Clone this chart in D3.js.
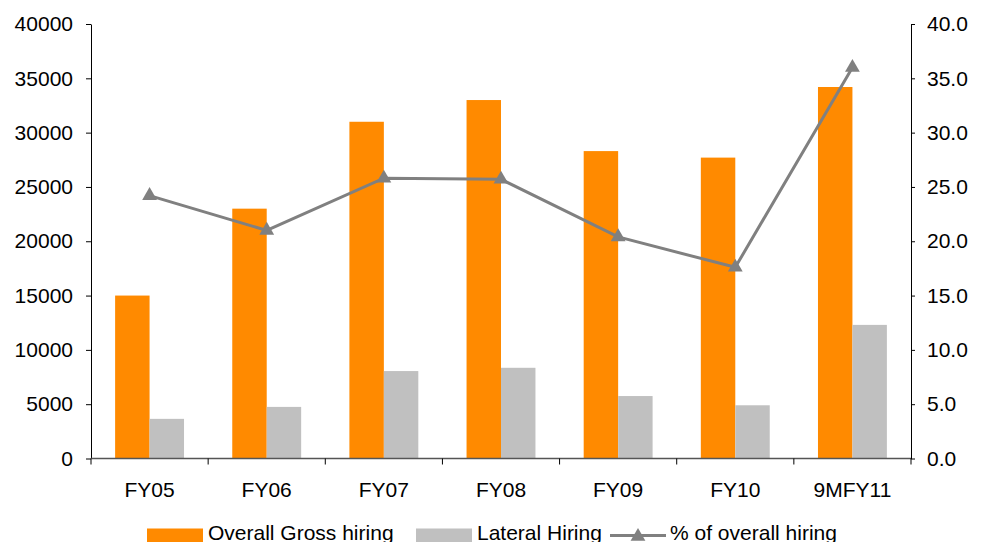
<!DOCTYPE html>
<html lang="en">
<head>
	<meta charset="UTF-8">
	<title>Gross hiring vs Lateral hiring</title>
	<script src="https://d3js.org/d3.v7.min.js"></script>
	<style>
		body {
			margin: 0;
			font-family: "Liberation Sans", Arial, sans-serif;
			background: #fff;
		}
		.axis text {
			font-family: "Liberation Sans", Arial, sans-serif;
			font-size: 21px;
			fill: #000;
		}
	</style>
</head>
<body>

<div id="chart"></div>

<script>
	// data
	const years = ["FY05", "FY06", "FY07", "FY08", "FY09", "FY10", "9MFY11"];
	const grossHiring = [15000, 23000, 31000, 33000, 28300, 27700, 34200];
	const lateralHiring = [3650, 4750, 8050, 8350, 5750, 4900, 12300];
	const pctOverall = [24.2, 21.0, 25.8, 25.7, 20.4, 17.6, 36.0];
	const leftTicks = [0, 5000, 10000, 15000, 20000, 25000, 30000, 35000, 40000];
	const rightTicks = [0, 5, 10, 15, 20, 25, 30, 35, 40];

	const W = 985, H = 542;
	const margin = {top: 24, right: 74, bottom: 83.5, left: 91},
		  width = W - margin.left - margin.right,
		  height = H - margin.top - margin.bottom;

	const svg = d3.select("#chart")
		.append("svg")
		.attr("width", W)
		.attr("height", H)
		.append("g")
		.attr("transform", `translate(${margin.left},${margin.top})`);

	const x = d3.scaleBand()
		.domain(years)
		.range([0, width]);

	// inner scale for the two bars within a category
	const inner = d3.scaleBand()
		.domain(["gross", "lateral"])
		.range([0, x.bandwidth()])
		.paddingOuter(0.7)
		.paddingInner(0);

	const yLeft = d3.scaleLinear().domain([0, 40000]).range([height, 0]);
	const yRight = d3.scaleLinear().domain([0, 40]).range([height, 0]);

	const markerSize = 95;

	// Bars
	svg.selectAll("rect.gross")
		.data(years)
		.join("rect")
		.attr("class", "gross")
		.attr("x", (d) => x(d) + inner("gross"))
		.attr("y", (d, i) => yLeft(grossHiring[i]))
		.attr("width", inner.bandwidth())
		.attr("height", (d, i) => height - yLeft(grossHiring[i]))
		.attr("fill", "#ff8a00");

	svg.selectAll("rect.lateral")
		.data(years)
		.join("rect")
		.attr("class", "lateral")
		.attr("x", (d) => x(d) + inner("lateral"))
		.attr("y", (d, i) => yLeft(lateralHiring[i]))
		.attr("width", inner.bandwidth())
		.attr("height", (d, i) => height - yLeft(lateralHiring[i]))
		.attr("fill", "#c0c0c0");

	// Left axis
	svg.append("g")
		.attr("class", "axis")
		.call(d3.axisLeft(yLeft).tickValues(leftTicks).tickFormat(d3.format("d")).tickSize(5).tickPadding(13).tickSizeOuter(0))
		.call(g => g.select(".domain").attr("stroke", "#000"));

	// Right axis
	svg.append("g")
		.attr("class", "axis")
		.attr("transform", `translate(${width},0)`)
		.call(d3.axisRight(yRight).tickValues(rightTicks).tickFormat(d3.format(".1f")).tickSize(4).tickPadding(12).tickSizeOuter(0));

	// X axis with ticks at category boundaries
	const xAxis = svg.append("g")
		.attr("class", "axis")
		.attr("transform", `translate(0,${height})`);
	xAxis.append("line")
		.attr("x1", 0).attr("x2", width)
		.attr("stroke", "#555").attr("stroke-width", 1.5);
	xAxis.selectAll("line.sep")
		.data(years.concat([null]))
		.join("line")
		.attr("class", "sep")
		.attr("x1", (d, i) => i < years.length ? x(d) : width)
		.attr("x2", (d, i) => i < years.length ? x(d) : width)
		.attr("y1", 0).attr("y2", 6)
		.attr("stroke", "#000");
	xAxis.selectAll("text")
		.data(years)
		.join("text")
		.attr("x", d => x(d) + x.bandwidth() / 2)
		.attr("y", 38.5)
		.attr("text-anchor", "middle")
		.text(d => d);

	// Line with triangle markers
	const line = d3.line()
		.x((d, i) => x(years[i]) + x.bandwidth() / 2)
		.y(d => yRight(d));

	svg.append("path")
		.datum(pctOverall)
		.attr("d", line)
		.attr("fill", "none")
		.attr("stroke", "#808080")
		.attr("stroke-width", 3);

	svg.selectAll("path.marker")
		.data(pctOverall)
		.join("path")
		.attr("class", "marker")
		.attr("d", d3.symbol(d3.symbolTriangle, markerSize))
		.attr("transform", (d, i) => `translate(${x(years[i]) + x.bandwidth() / 2},${yRight(d)})`)
		.attr("fill", "#808080");

	// Legend (cut by the bottom edge, as in the original)
	const legend = svg.append("g")
		.attr("transform", `translate(0, ${height})`);
	const items = [
		{type: "rect", color: "#ff8a00", label: "Overall Gross hiring", x: 56},
		{type: "rect", color: "#c0c0c0", label: "Lateral Hiring", x: 325},
		{type: "line", color: "#808080", label: "% of overall hiring", x: 519}
	];
	items.forEach(it => {
		const g = legend.append("g").attr("transform", `translate(${it.x}, 0)`);
		if (it.type === "rect") {
			g.append("rect").attr("x", 0).attr("y", 70).attr("width", 56).attr("height", 16).attr("fill", it.color);
		} else {
			g.append("line").attr("x1", 0).attr("x2", 56).attr("y1", 77).attr("y2", 77)
				.attr("stroke", it.color).attr("stroke-width", 3);
			g.append("path").attr("d", d3.symbol(d3.symbolTriangle, markerSize))
				.attr("transform", "translate(28,78)").attr("fill", it.color);
		}
		g.append("text")
			.attr("x", it.type === "rect" ? 61 : 60)
			.attr("y", 81)
			.style("font-size", "21px")
			.text(it.label);
	});
</script>

</body>
</html>
